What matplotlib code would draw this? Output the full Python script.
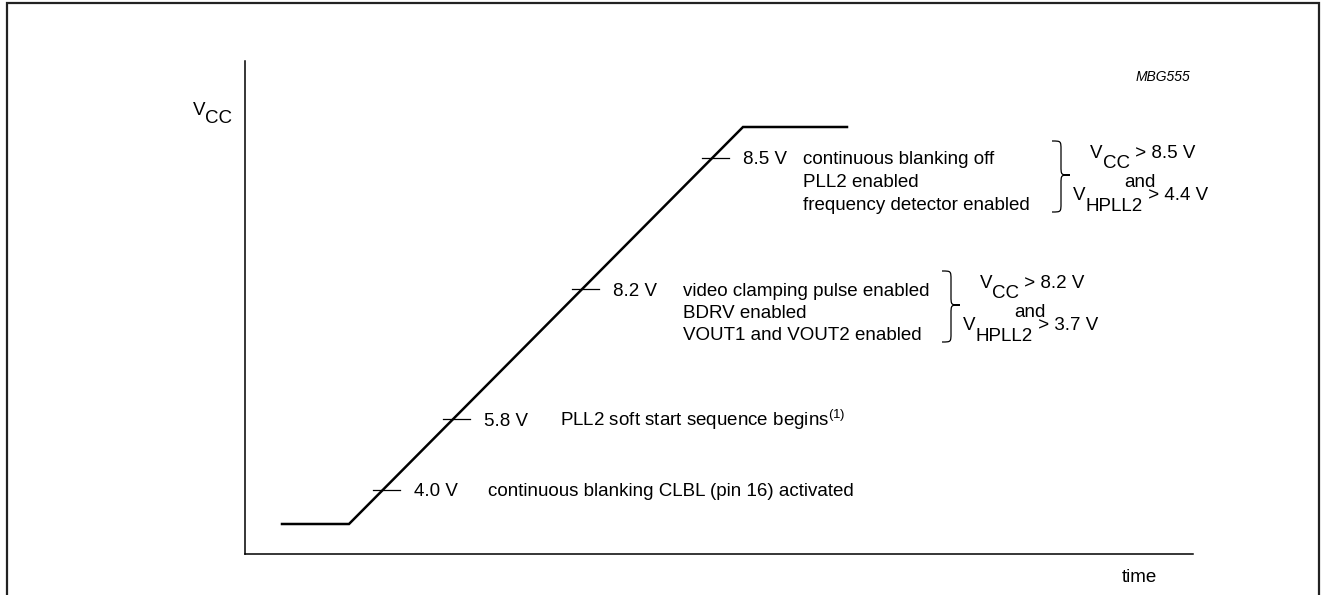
#!/usr/bin/env python
# power-up sequence of the deflection controller: V_CC ramp with the
# thresholds where the blocks switch on

import matplotlib
matplotlib.use('Agg')
import matplotlib.pyplot as plt
from matplotlib.patches import Rectangle, PathPatch
from matplotlib.path import Path
import numpy as np

plt.rcParams['font.family'] = ['Liberation Sans', 'DejaVu Sans']
plt.rcParams['mathtext.fontset'] = 'custom'
plt.rcParams['mathtext.rm'] = 'Liberation Sans'
plt.rcParams['mathtext.it'] = 'Liberation Sans:italic'

# ramp of V_CC (schematic units, time vs level)
t_ramp = [37, 104, 498, 602]
v_ramp = [30, 30, 427, 427]

# switching thresholds on the ramp
levels = [64, 135, 265, 396]
level_labels = ['4.0 V', '5.8 V', '8.2 V', '8.5 V']
level_text = [
    ['continuous blanking CLBL (pin 16) activated'],
    [r'PLL2 soft start sequence begins$^{\mathrm{(1)}}$'],
    ['video clamping pulse enabled', 'BDRV enabled', 'VOUT1 and VOUT2 enabled'],
    ['continuous blanking off', 'PLL2 enabled', 'frequency detector enabled'],
]
# conditions on the right of the braces
cond_vcc = ['8.2 V', '8.5 V']
cond_hpll = ['3.7 V', '4.4 V']

# layout
desc_x = [243, 315, 438, 558]
brace_x = [697, 807]
brace_top = [283, 413]
brace_mid = [249, 379]
brace_bot = [212, 342]
fs = 13.5

fig = plt.figure(figsize=(13.29, 5.95), dpi=100)
fig.patches.append(Rectangle((7/1329, -0.02), 1312/1329, 1 - 3/595 + 0.02,
                             transform=fig.transFigure, fill=False,
                             lw=1.6, ec='#222222'))

ax = fig.add_axes([245/1329, 41/595, 948/1329, 493/595])
ax.set_xlim(0, 948)
ax.set_ylim(0, 493)
for s in ['top', 'right']:
    ax.spines[s].set_visible(False)
for s in ['left', 'bottom']:
    ax.spines[s].set_linewidth(1.1)
ax.set_xticks([])
ax.set_yticks([])

ax.plot(t_ramp, v_ramp, color='black', lw=1.8, solid_joinstyle='miter')

renderer = fig.canvas.get_renderer()


def chain(x, y, pieces, size=fs):
    # write text pieces one after another, each with its own vertical shift
    cur = x
    for s, dy in pieces:
        t = ax.text(cur, y + dy, s, fontsize=size, ha='left', va='baseline',
                    clip_on=False)
        cur += t.get_window_extent(renderer=renderer).width
    return cur


for ii in range(len(levels)):
    y = levels[ii]
    xl = np.interp(y, v_ramp[1:3], t_ramp[1:3])
    ax.plot([xl - 10, xl + 17], [y, y], color='black', lw=0.9)
    ax.text(xl + 31, y - 6.5, level_labels[ii], fontsize=fs, ha='left',
            va='baseline')
    for jj, line in enumerate(level_text[ii]):
        ax.text(desc_x[ii], y - 6.5 - 22.5 * jj, line, fontsize=fs,
                ha='left', va='baseline')


def brace(x0, top, mid, bot, w=18):
    xm = x0 + w / 2
    verts = [(x0, top), (xm, top), (xm, top), (xm, top - 9),
             (xm, mid + 9),
             (xm, mid), (xm, mid), (x0 + w, mid),
             (xm, mid), (xm, mid), (xm, mid - 9),
             (xm, bot + 9),
             (xm, bot), (xm, bot), (x0, bot)]
    codes = [Path.MOVETO, Path.CURVE4, Path.CURVE4, Path.CURVE4,
             Path.LINETO,
             Path.CURVE4, Path.CURVE4, Path.CURVE4,
             Path.CURVE4, Path.CURVE4, Path.CURVE4,
             Path.LINETO,
             Path.CURVE4, Path.CURVE4, Path.CURVE4]
    ax.add_patch(PathPatch(Path(verts, codes), fill=False, lw=0.9,
                           ec='black'))


for kk in range(2):
    bx, bm = brace_x[kk], brace_mid[kk]
    brace(bx, brace_top[kk], bm, brace_bot[kk])
    chain(bx + 38, bm + 17, [('V', 0), ('CC', -10), (' > ' + cond_vcc[kk], 0)])
    ax.text(bx + 88, bm - 12, 'and', fontsize=fs, ha='center', va='baseline')
    chain(bx + 21, bm - 25, [('V', 0), ('HPLL2', -11),
                             (' > ' + cond_hpll[kk], 0)])

# axis labels
chain(-52, 439, [('V', 0), ('CC', -8)])
ax.text(894, -23, 'time', fontsize=fs, ha='center', va='center',
        clip_on=False)
ax.text(918, 477, 'MBG555', fontsize=10, style='italic', ha='center',
        va='center')

plt.savefig('out.png', dpi=100)
